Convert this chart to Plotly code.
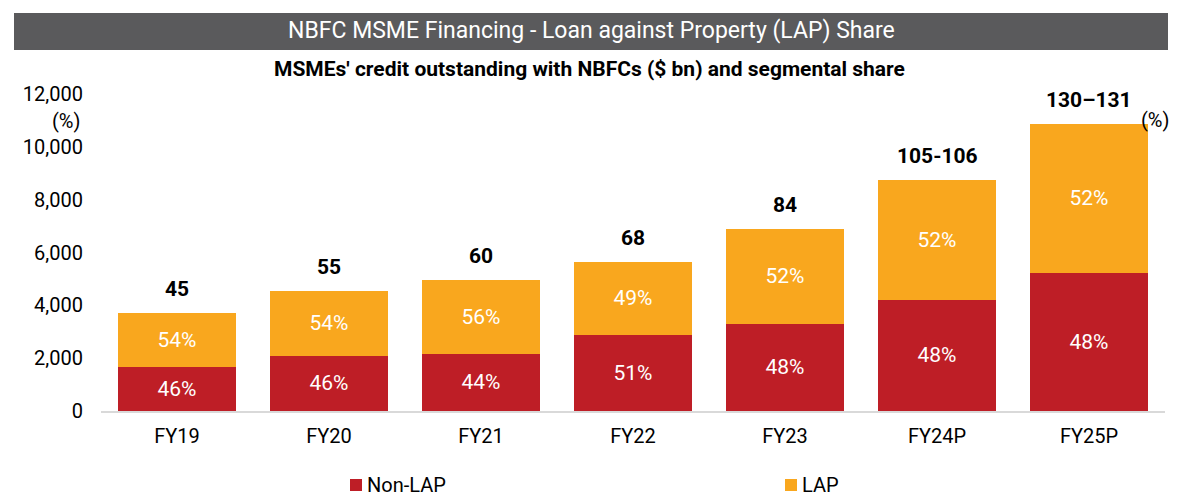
import plotly.graph_objects as go

categories = ["FY19", "FY20", "FY21", "FY22", "FY23", "FY24P", "FY25P"]
non_lap = [1680, 2090, 2170, 2880, 3300, 4210, 5230]
lap = [2020, 2460, 2790, 2770, 3600, 4540, 5640]
non_lap_share = ["46%", "46%", "44%", "51%", "48%", "48%", "48%"]
lap_share = ["54%", "54%", "56%", "49%", "52%", "52%", "52%"]
total_labels = ["45", "55", "60", "68", "84", "105-106", "130\u2013131"]
series_names = ["Non-LAP", "LAP"]

RED = "#BE1E26"
ORANGE = "#F9A71E"
FONT = "Roboto"

# page body has an 8px default margin; size the figure so it fits the window
OFF = 8
W, H = 1178 - OFF, 497 - OFF
ML = 101 - OFF
MT = 94 - OFF
MR = W - (1165 - OFF)
MB = H - (411 - OFF)
pw, ph = W - ML - MR, H - MT - MB


def px_x(p):
    return (p - OFF - ML) / pw


def px_y(p):
    return (H - MB - (p - OFF)) / ph


fig = go.Figure()
fig.add_trace(go.Bar(
    x=categories, y=non_lap, name=series_names[0], marker_color=RED,
    text=non_lap_share, textposition="inside", insidetextanchor="middle",
    textfont=dict(color="white", size=21, family=FONT),
    marker_line_width=0,
))
fig.add_trace(go.Bar(
    x=categories, y=lap, name=series_names[1], marker_color=ORANGE,
    text=lap_share, textposition="inside", insidetextanchor="middle",
    textfont=dict(color="white", size=21, family=FONT),
    marker_line_width=0,
))

totals = [a + b for a, b in zip(non_lap, lap)]
for c, t, lbl in zip(categories, totals, total_labels):
    fig.add_annotation(x=c, y=t, text="<b>%s</b>" % lbl, showarrow=False,
                       yanchor="bottom", yshift=10,
                       font=dict(size=21, color="black", family=FONT))

# title bar
fig.add_shape(type="rect", xref="paper", yref="paper",
              x0=px_x(14), x1=px_x(1168), y0=px_y(50), y1=px_y(13),
              fillcolor="#5A5A5C", line_width=0, layer="below")
fig.add_annotation(xref="paper", yref="paper", x=px_x(591), y=px_y(31),
                   text="NBFC MSME Financing - Loan against Property (LAP) Share",
                   showarrow=False, font=dict(size=23, color="white", family=FONT),
                   xanchor="center", yanchor="middle")
fig.add_annotation(xref="paper", yref="paper", x=px_x(589), y=px_y(69),
                   text="<b>MSMEs' credit outstanding with NBFCs ($ bn) and segmental share</b>",
                   showarrow=False, font=dict(size=21, color="black", family=FONT),
                   xanchor="center", yanchor="middle")
fig.add_annotation(xref="paper", yref="paper", x=px_x(82), y=px_y(121),
                   text="(%)", showarrow=False,
                   font=dict(size=20, color="black", family=FONT),
                   xanchor="right", yanchor="middle")
fig.add_annotation(xref="paper", yref="paper", x=px_x(1139), y=px_y(120),
                   text="(%)", showarrow=False,
                   font=dict(size=20, color="black", family=FONT),
                   xanchor="left", yanchor="middle")

# manual legend
for name, col, sx in [(series_names[0], RED, 350), (series_names[1], ORANGE, 785)]:
    fig.add_shape(type="rect", xref="paper", yref="paper",
                  x0=px_x(sx), x1=px_x(sx + 12), y0=px_y(491), y1=px_y(479),
                  fillcolor=col, line_width=0)
    fig.add_annotation(xref="paper", yref="paper", x=px_x(sx + 15), y=px_y(485),
                       text=name, showarrow=False, xanchor="left", yanchor="middle",
                       font=dict(size=20, color="black", family=FONT))

fig.update_layout(
    width=W, height=H,
    margin=dict(l=ML, r=MR, t=MT, b=MB, autoexpand=False),
    barmode="stack", bargap=0.23,
    plot_bgcolor="white", paper_bgcolor="white",
    font=dict(family=FONT, size=20, color="black"),
    showlegend=False,
    xaxis=dict(showgrid=False, showline=True, linecolor="#D9D9D9", linewidth=2,
               ticks="", ticklabelstandoff=6,
               tickfont=dict(size=20, family=FONT), automargin=False),
    yaxis=dict(range=[0, 12000], dtick=2000, tickformat=",", showgrid=False,
               zeroline=False, showline=False, ticks="", automargin=False,
               ticklabelstandoff=17,
               tickfont=dict(size=20, family=FONT)),
)

fig.write_html("out.html")
